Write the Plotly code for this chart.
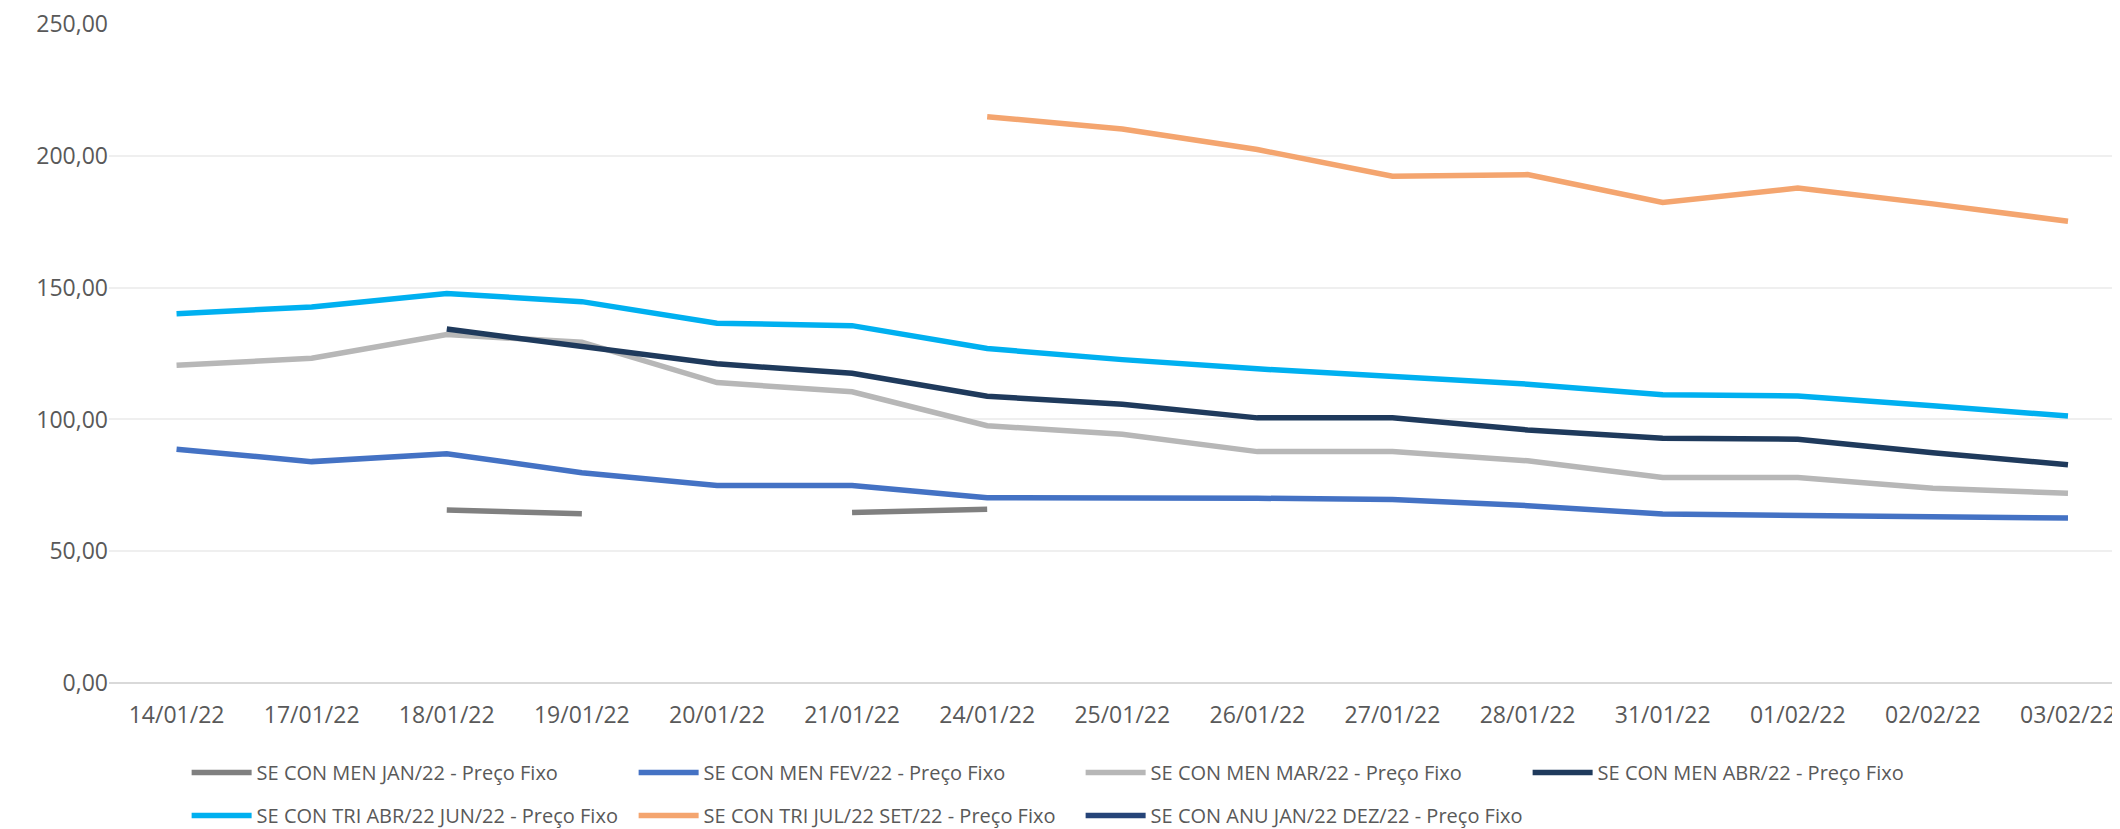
import plotly.graph_objects as go

# categories (trading days)
datas = ["14/01/22", "17/01/22", "18/01/22", "19/01/22", "20/01/22", "21/01/22", "24/01/22",
         "25/01/22", "26/01/22", "27/01/22", "28/01/22", "31/01/22", "01/02/22", "02/02/22", "03/02/22"]

# prices (None = no quote)
men_jan = [None, None, 65.6, 64.2, None, 64.7, 65.9, None, None, None, None, None, None, None, None]
men_fev = [88.7, 84.0, 87.0, 79.8, 74.9, 74.9, 70.3, 70.4, 70.1, 69.6, 67.3, 64.1, 63.6, 63.1, 62.6]
men_mar = [120.6, 123.2, 132.2, 129.3, 114.0, 110.5, 97.6, 94.4, 87.8, 87.8, 84.3, 78.0, 78.0, 73.9, 72.0]
men_abr = [None, None, 134.3, 127.8, 121.1, 117.5, 108.8, 105.8, 100.6, 100.6, 96.0, 92.9, 92.5, 87.4, 82.8]
tri_abr_jun = [140.1, 142.7, 147.8, 144.7, 136.5, 135.6, 126.9, 122.7, 119.2, 116.5, 113.4, 109.4, 108.9, 105.2, 101.3]
tri_jul_set = [None, None, None, None, None, None, 214.9, 210.2, 202.4, 192.3, 192.9, 182.3, 187.8, 181.8, 175.2]
anu_jan_dez = [None] * 15

y_ticks = [0, 50, 100, 150, 200, 250]

series = [
    ("SE CON MEN JAN/22 - Preço Fixo", men_jan, "#808080", "legend"),
    ("SE CON MEN FEV/22 - Preço Fixo", men_fev, "#4472c4", "legend"),
    ("SE CON MEN MAR/22 - Preço Fixo", men_mar, "#b7b7b7", "legend"),
    ("SE CON MEN ABR/22 - Preço Fixo", men_abr, "#1f3a5c", "legend"),
    ("SE CON TRI ABR/22 JUN/22 - Preço Fixo", tri_abr_jun, "#00b0f0", "legend2"),
    ("SE CON TRI JUL/22 SET/22 - Preço Fixo", tri_jul_set, "#f4a56f", "legend2"),
    ("SE CON ANU JAN/22 DEZ/22 - Preço Fixo", anu_jan_dez, "#264478", "legend2"),
]

fig = go.Figure()
for nome, vals, cor, leg in series:
    fig.add_trace(go.Scatter(x=datas, y=vals, mode="lines", name=nome, legend=leg,
                             connectgaps=False,
                             line=dict(color=cor, width=5.5)))

font_main = "Open Sans"
leg_common = dict(orientation="h", xanchor="left", yanchor="middle", x=0.0386,
                  entrywidth=372, entrywidthmode="pixels", itemwidth=60,
                  font=dict(family=font_main, size=20, color="#595959"),
                  bgcolor="rgba(0,0,0,0)", itemclick=False, itemdoubleclick=False)

# the page body adds an 8px offset, so the figure is 8px smaller than the window
fig.update_layout(
    width=2112, height=821,
    margin=dict(l=101, r=0, t=16, b=146, autoexpand=False),
    plot_bgcolor="white", paper_bgcolor="white",
    separators=",.",
    font=dict(family=font_main, color="#595959"),
    legend=dict(y=-0.136, **leg_common),
    legend2=dict(y=-0.201, **leg_common),
    xaxis=dict(type="category", range=[-0.5, 14.385], showgrid=False,
               showline=False, zeroline=False, ticks="", automargin=False,
               tickfont=dict(family=font_main, size=23, color="#595959"),
               ticklabelstandoff=16, ticklabeloverflow="allow"),
    yaxis=dict(range=[0, 250.05], tickmode="array", tickvals=y_ticks, tickformat=".2f",
               showgrid=True, gridcolor="#efefef", gridwidth=1.5,
               zeroline=True, zerolinecolor="#d9d9d9", zerolinewidth=1.5,
               showline=False, ticks="", automargin=False,
               tickfont=dict(family=font_main, size=23, color="#595959"),
               ticklabelstandoff=0, ticklabeloverflow="allow"),
)

fig.write_html("out.html")
